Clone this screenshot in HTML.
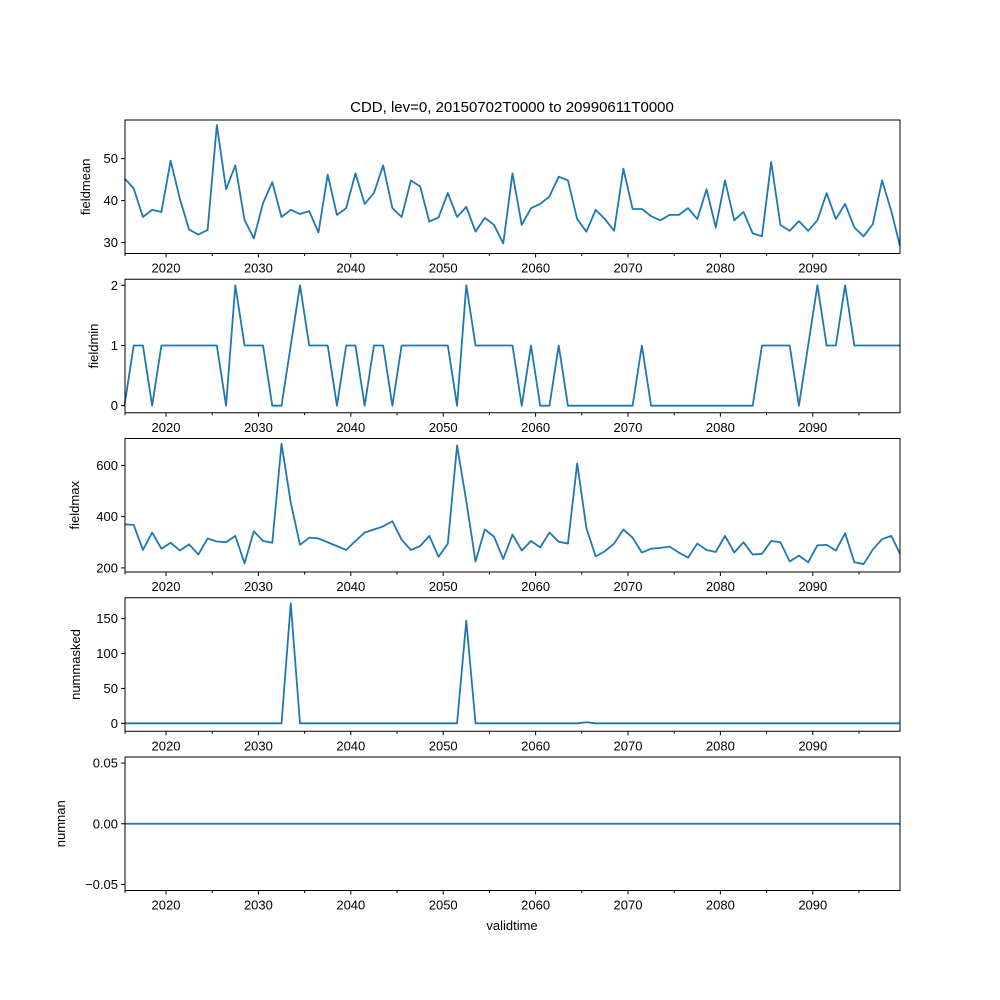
<!DOCTYPE html>
<html><head><meta charset="utf-8"><style>
body{margin:0;background:#fff}
svg{display:block;font-family:"Liberation Sans","DejaVu Sans",sans-serif}
</style></head><body>
<svg id="chart" width="1000" height="1000" viewBox="0 0 1000 1000"></svg>
<script>
const years = [];
for (let i = 0; i < 85; i++) years.push(2015.5 + i);
years[84] = 2099.44;
const fieldmean = [45.3,42.9,36.1,37.8,37.3,49.5,40.4,33.1,31.9,33,58,42.7,48.4,35.4,31,39.4,44.4,36.1,37.8,36.8,37.5,32.4,46.2,36.6,38.2,46.5,39.2,41.8,48.4,38.2,36.1,44.8,43.4,35,36,41.8,36.1,38.5,32.6,35.9,34.2,29.8,46.5,34.2,38.2,39.2,41,45.7,44.8,35.6,32.6,37.8,35.6,32.8,47.6,38,38,36.3,35.3,36.6,36.6,38.2,35.6,42.7,33.6,44.8,35.3,37.3,32.2,31.5,49.2,34.2,32.8,35.1,32.8,35.3,41.8,35.6,39.2,33.6,31.5,34.4,44.8,37.5,29.2];
const fieldmin = [0,1,1,0,1,1,1,1,1,1,1,0,2,1,1,1,0,0,1,2,1,1,1,0,1,1,0,1,1,0,1,1,1,1,1,1,0,2,1,1,1,1,1,0,1,0,0,1,0,0,0,0,0,0,0,0,1,0,0,0,0,0,0,0,0,0,0,0,0,1,1,1,1,0,1,2,1,1,2,1,1,1,1,1,1];
const fieldmax = [370,368,270,338,275,298,268,292,252,315,303,300,325,218,343,305,298,685,455,290,318,315,300,285,270,305,338,350,362,382,310,270,285,325,243,295,678,460,225,350,322,235,330,268,305,280,338,302,295,608,355,245,265,295,350,318,260,275,278,283,260,240,295,270,262,325,260,300,252,255,305,300,225,248,222,288,290,268,335,222,215,272,312,325,255];
const nummasked = years.map(()=>0);
nummasked[18]=172; nummasked[37]=147; nummasked[50]=1.5;
const numnan = years.map(()=>0);
const xTicks = [2020,2030,2040,2050,2060,2070,2080,2090];
const xMinor = [2025,2035,2045,2055,2065,2075,2085,2095];

const panels = [
 {name:'fieldmean', data:fieldmean, ymin:27.4, ymax:59.2, ticks:[30,40,50], labels:['30','40','50'], lx:90},
 {name:'fieldmin', data:fieldmin, ymin:-0.117, ymax:2.1, ticks:[0,1,2], labels:['0','1','2'], lx:98},
 {name:'fieldmax', data:fieldmax, ymin:184, ymax:705, ticks:[200,400,600], labels:['200','400','600'], lx:79},
 {name:'nummasked', data:nummasked, ymin:-11.4, ymax:180, ticks:[0,50,100,150], labels:['0','50','100','150'], lx:80},
 {name:'numnan', data:numnan, ymin:-0.055, ymax:0.055, ticks:[-0.05,0,0.05], labels:['−0.05','0.00','0.05'], lx:65}
];
const NS='http://www.w3.org/2000/svg';
const svg=document.getElementById('chart');
const L=125,R=900,X0=2015.56,X1=2099.44;
const sx=v=>L+(v-X0)/(X1-X0)*(R-L);
function mk(tag,attrs,parent){const e=document.createElementNS(NS,tag);for(const k in attrs)e.setAttribute(k,attrs[k]);(parent||svg).appendChild(e);return e;}
const title=mk('text',{x:512,y:112,'text-anchor':'middle','font-size':15,fill:'#000'});


title.textContent='CDD, lev=0, 20150702T0000 to 20990611T0000';
panels.forEach((p,k)=>{
  const top=120+k*159.25, bot=top+133.5;
  const sy=v=>bot-(v-p.ymin)/(p.ymax-p.ymin)*(bot-top);
  const g=mk('g',{});
  
  
  const pts=years.map((y,i)=>sx(y).toFixed(2)+','+sy(p.data[i]).toFixed(2)).join(' ');
  const line=mk('polyline',{points:pts,fill:'none',stroke:'#1f77b4','stroke-width':1.8,'stroke-linejoin':'round'},g);
  
  
  const frame=mk('rect',{x:L,y:top,width:R-L,height:bot-top,fill:'none',stroke:'#000','stroke-width':1},g);
  
  
  p.ticks.forEach((t,j)=>{
    const y=sy(t);
    mk('line',{x1:L-4,x2:L,y1:y,y2:y,stroke:'#000'},g);
    const tl=mk('text',{x:L-7,y:y+4.5,'text-anchor':'end','font-size':13,fill:'#000'},g);
    
    
    tl.textContent=p.labels[j];
  });
  xTicks.forEach(t=>{
    const x=sx(t);
    mk('line',{x1:x,x2:x,y1:bot,y2:bot+4,stroke:'#000'},g);
    const tl=mk('text',{x:x,y:bot+19,'text-anchor':'middle','font-size':13,fill:'#000'},g);
    
    
    tl.textContent=t;
  });
  xMinor.forEach(t=>{const x=sx(t);mk('line',{x1:x,x2:x,y1:bot,y2:bot+2.5,stroke:'#000'},g);});
  mk('line',{x1:L,x2:L,y1:bot,y2:bot+2.5,stroke:'#000'},g);
  const yl=mk('text',{x:0,y:0,'text-anchor':'middle','font-size':13,fill:'#000',transform:`translate(${p.lx},${(top+bot)/2}) rotate(-90)`},g);
  
  
  yl.textContent=p.name;
});
const xl=mk('text',{x:512,y:930,'text-anchor':'middle','font-size':13,fill:'#000'});


xl.textContent='validtime';
</script>
</body></html>
